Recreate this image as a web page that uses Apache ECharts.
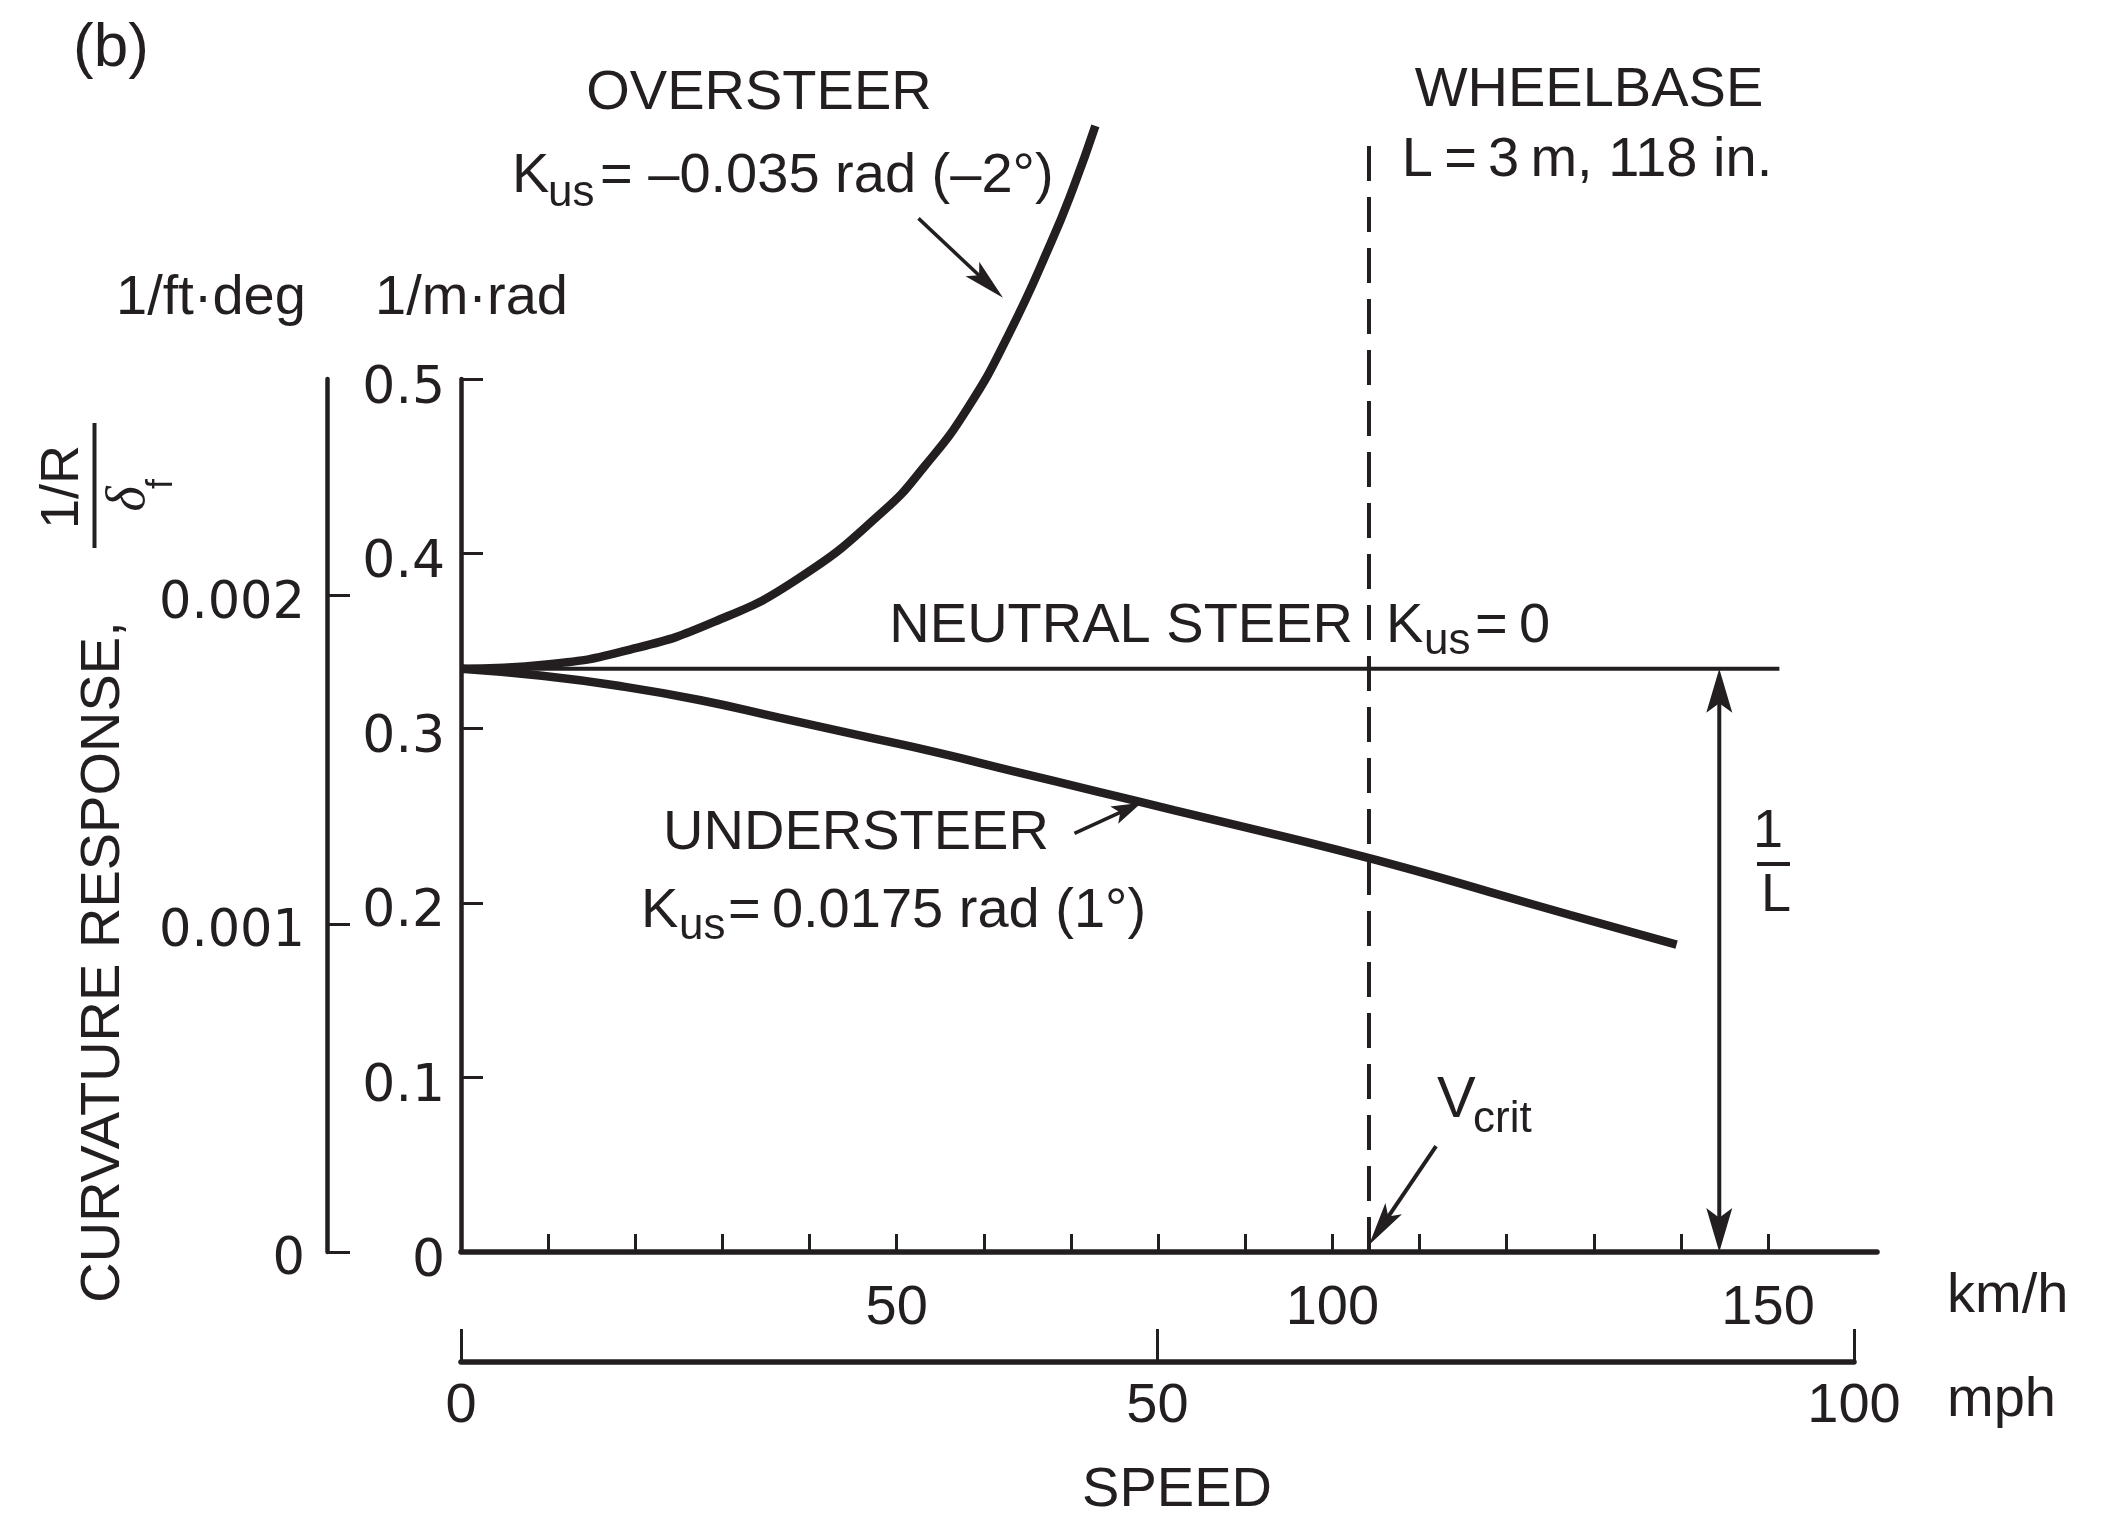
<!DOCTYPE html>
<html>
<head>
<meta charset="utf-8">
<script src="https://cdn.jsdelivr.net/npm/echarts@6/dist/echarts.min.js"></script>
<style>
html,body{margin:0;padding:0;background:#ffffff;}
#chart{width:2126px;height:1519px;}
</style>
</head>
<body>
<div id="chart"></div>
<script>
// ---------------- data ----------------
// speed in km/h, curvature response in 1/(m·rad)
const speedOver  = [0, 9.8, 19.4, 29.1, 38.8, 48.4, 53.2, 58.1, 62.9, 67.7, 70.3, 72.8];
const curvOver   = [0.334, 0.3365, 0.345, 0.361, 0.386, 0.424, 0.450, 0.483, 0.526, 0.578, 0.610, 0.645];
const speedUnder = [0, 9.3, 18.4, 27.5, 36.5, 45.6, 54.7, 63.7, 72.8, 81.9, 91.0, 100.0, 109.1, 118.2, 127.3, 139.5];
const curvUnder  = [0.334, 0.330, 0.324, 0.316, 0.306, 0.296, 0.286, 0.275, 0.264, 0.253, 0.242, 0.231, 0.219, 0.206, 0.193, 0.176];
const speedNeutral = [0, 151.3];
const curvNeutral  = [0.334, 0.334];
const speedCrit = [104.2, 104.2];
const curvCrit  = [0, 0.64];

// axis ticks / labels
const kmhTicks   = [10, 20, 30, 40, 50, 60, 70, 80, 90, 100, 110, 120, 130, 140, 150];
const kmhLabels  = [50, 100, 150];
const mphTicks   = [0, 50, 100];
const mphLabels  = [0, 50, 100];
const mradTicks  = [0.1, 0.2, 0.3, 0.4, 0.5];
const mradLabels = [0, 0.1, 0.2, 0.3, 0.4, 0.5];
const ftdegTicks  = [0, 0.001, 0.002];
const ftdegLabels = [0, 0.001, 0.002];

// annotation arrows: [fromSpeed, fromCurv, toSpeed, toCurv]
const arrowOver  = [52.5, 0.592, 62.2, 0.5465];
const arrowUnder = [70.4, 0.2398, 78.1, 0.2573];
const arrowCrit  = [111.9, 0.0607, 104.2, 0.004];
const arrowL     = [144.4, 0.0, 144.4, 0.334];

// ---------------- chart ----------------
const INK = '#231f20';
const SANS = "'Liberation Sans', Arial, sans-serif";
const WIDE = "'DejaVu Sans', sans-serif";
const FT_DEG_TO_M_RAD = (1 / 0.3048) * (180 / Math.PI);

function zip(a, b) { return a.map((v, i) => [v, b[i]]); }

const arrowStyles = [
  { w: 3.5, len: 42, wid: 20, dbl: false },
  { w: 3.5, len: 30, wid: 19, dbl: false },
  { w: 4,   len: 44, wid: 20, dbl: false },
  { w: 4,   len: 44, wid: 26, dbl: true }
];

function head(tip, dir, len, wid) {
  const px = -dir[1], py = dir[0];
  const bx = tip[0] - dir[0] * len, by = tip[1] - dir[1] * len;
  const nx = tip[0] - dir[0] * len * 0.78, ny = tip[1] - dir[1] * len * 0.78;
  return {
    type: 'polygon',
    shape: { points: [tip, [bx + px * wid / 2, by + py * wid / 2], [nx, ny], [bx - px * wid / 2, by - py * wid / 2]] },
    style: { fill: INK }
  };
}

function renderArrow(params, api) {
  const s = arrowStyles[params.dataIndex];
  const a = api.coord([api.value(0), api.value(1)]);
  const b = api.coord([api.value(2), api.value(3)]);
  const dx = b[0] - a[0], dy = b[1] - a[1];
  const d = Math.sqrt(dx * dx + dy * dy);
  const u = [dx / d, dy / d];
  const endB = [b[0] - u[0] * s.len * 0.7, b[1] - u[1] * s.len * 0.7];
  const startA = s.dbl ? [a[0] + u[0] * s.len * 0.7, a[1] + u[1] * s.len * 0.7] : a;
  const children = [
    { type: 'line', shape: { x1: startA[0], y1: startA[1], x2: endB[0], y2: endB[1] },
      style: { stroke: INK, lineWidth: s.w } },
    head(b, u, s.len, s.wid)
  ];
  if (s.dbl) children.push(head(a, [-u[0], -u[1]], s.len, s.wid));
  return { type: 'group', children: children };
}

function txt(x, y, text, size, o) {
  o = o || {};
  return {
    type: 'text', x: x, y: y, rotation: o.rot || 0, silent: true,
    style: {
      text: text, x: 0, y: 0, fill: INK,
      fontSize: size, fontFamily: o.family || SANS, fontStyle: o.style || 'normal',
      align: o.align || 'left', verticalAlign: 'middle'
    }
  };
}

const chart = echarts.init(document.getElementById('chart'), null, { renderer: 'canvas' });

const option = {
  animation: false,
  backgroundColor: '#ffffff',
  grid: [
    { left: 461, top: 379, width: 1416, height: 873, containLabel: false, outerBoundsMode: 'none' },
    { left: 461, top: 1300, width: 1393, height: 62, containLabel: false, outerBoundsMode: 'none' },
    { left: 461, top: 29.8, width: 1416, height: 1222.2, containLabel: false, outerBoundsMode: 'none' }
  ],
  xAxis: [
    { gridIndex: 0, type: 'value', min: 0, max: 162.5, position: 'bottom',
      axisLine: { show: true, onZero: false, lineStyle: { color: INK, width: 5.5 } },
      axisTick: { show: true, inside: true, length: 18, customValues: kmhTicks, lineStyle: { color: INK, width: 3 } },
      axisLabel: { show: true, customValues: kmhLabels, margin: 29, color: INK, fontSize: 56, fontFamily: SANS,
                   formatter: v => String(v) },
      splitLine: { show: false } },
    { gridIndex: 1, type: 'value', min: 0, max: 100, position: 'bottom',
      axisLine: { show: true, onZero: false, lineStyle: { color: INK, width: 5.5 } },
      axisTick: { show: true, inside: true, length: 33, customValues: mphTicks, lineStyle: { color: INK, width: 3 } },
      axisLabel: { show: true, customValues: mphLabels, margin: 17, color: INK, fontSize: 56, fontFamily: SANS,
                   formatter: v => String(v) },
      splitLine: { show: false } },
    { gridIndex: 2, type: 'value', min: 0, max: 162.5, show: false, splitLine: { show: false } }
  ],
  yAxis: [
    { gridIndex: 0, type: 'value', min: 0, max: 0.5, position: 'left',
      axisLine: { show: true, onZero: false, lineStyle: { color: INK, width: 4.5 } },
      axisTick: { show: true, inside: true, length: 22, customValues: mradTicks, lineStyle: { color: INK, width: 3 } },
      axisLabel: { show: true, customValues: mradLabels, margin: 16, color: INK, fontSize: 52, fontFamily: WIDE,
                   verticalAlign: 'top', lineHeight: 20, formatter: v => String(v) },
      splitLine: { show: false } },
    { gridIndex: 0, type: 'value', min: 0, max: 0.5 / FT_DEG_TO_M_RAD, position: 'left', offset: 134,
      axisLine: { show: true, onZero: false, lineStyle: { color: INK, width: 4.5 } },
      axisTick: { show: true, inside: true, length: 23, customValues: ftdegTicks, lineStyle: { color: INK, width: 3 } },
      axisLabel: { show: true, customValues: ftdegLabels, margin: 22, color: INK, fontSize: 51, fontFamily: WIDE,
                   verticalAlign: 'top', lineHeight: 18, formatter: v => String(v) },
      splitLine: { show: false } },
    { gridIndex: 2, type: 'value', min: 0, max: 0.7, show: false, splitLine: { show: false } },
    { gridIndex: 1, type: 'value', min: 0, max: 1, show: false, splitLine: { show: false } }
  ],
  series: [
    { name: 'NEUTRAL STEER', type: 'line', xAxisIndex: 2, yAxisIndex: 2, data: zip(speedNeutral, curvNeutral),
      symbol: 'none', clip: false, silent: true, lineStyle: { color: INK, width: 4 } },
    { name: 'OVERSTEER', type: 'line', xAxisIndex: 2, yAxisIndex: 2, data: zip(speedOver, curvOver),
      symbol: 'none', smooth: 0.5, clip: false, silent: true, lineStyle: { color: INK, width: 8.5, cap: 'butt' } },
    { name: 'UNDERSTEER', type: 'line', xAxisIndex: 2, yAxisIndex: 2, data: zip(speedUnder, curvUnder),
      symbol: 'none', smooth: 0.5, clip: false, silent: true, lineStyle: { color: INK, width: 8.5, cap: 'butt' } },
    { name: 'V crit', type: 'line', xAxisIndex: 2, yAxisIndex: 2, data: zip(speedCrit, curvCrit),
      symbol: 'none', clip: false, silent: true, lineStyle: { color: INK, width: 4, type: [35, 16] } },
    { name: 'arrows', type: 'custom', xAxisIndex: 2, yAxisIndex: 2, clip: false, silent: true,
      data: [arrowOver, arrowUnder, arrowCrit, arrowL], renderItem: renderArrow }
  ],
  graphic: [
    txt(73, 49, '(b)', 62),
    txt(759, 94, 'OVERSTEER', 56, { align: 'center' }),
    txt(512, 177, 'K', 56),
    txt(548, 194, 'us', 44),
    txt(600, 177, '= \u20130.035 rad (\u20132\u00b0)', 56),
    txt(116, 299, '1/ft\u00b7deg', 56),
    txt(375, 299, '1/m\u00b7rad', 56),
    txt(1589, 91, 'WHEELBASE', 56, { align: 'center' }),
    txt(1587, 161, 'L\u2009=\u20093\u2009m, 118 in.', 56, { align: 'center' }),
    txt(1353, 627, 'NEUTRAL STEER', 56, { align: 'right' }),
    txt(1386, 627, 'K', 56),
    txt(1424, 642, 'us', 44),
    txt(1475, 627, '=\u20090', 56),
    txt(856, 834, 'UNDERSTEER', 56, { align: 'center' }),
    txt(641, 912, 'K', 56),
    txt(679, 927, 'us', 44),
    txt(728, 912, '=\u20090.0175 rad (1\u00b0)', 56),
    txt(1437, 1101, 'V', 58),
    txt(1473, 1120, 'crit', 44),
    txt(1768, 832, '1', 54, { align: 'center' }),
    { type: 'line', silent: true, shape: { x1: 1757, y1: 864, x2: 1790, y2: 864 }, style: { stroke: INK, lineWidth: 4 } },
    txt(1776, 896, 'L', 54, { align: 'center' }),
    txt(1947, 1297, 'km/h', 56),
    txt(1947, 1401, 'mph', 56),
    txt(1177, 1491, 'SPEED', 56, { align: 'center' }),
    txt(104, 962, 'CURVATURE RESPONSE,', 56, { align: 'center', rot: Math.PI / 2 }),
    txt(63, 487, '1/R', 54, { align: 'center', rot: Math.PI / 2 }),
    { type: 'line', silent: true, shape: { x1: 94.5, y1: 423, x2: 94.5, y2: 548 }, style: { stroke: INK, lineWidth: 4 } },
    txt(130, 499, '\u03b4', 54, { align: 'center', rot: Math.PI / 2, family: "'Liberation Serif', serif", style: 'italic' }),
    txt(162, 484, 'f', 36, { align: 'center', rot: Math.PI / 2 })
  ]
};

chart.setOption(option);
</script>
</body>
</html>
